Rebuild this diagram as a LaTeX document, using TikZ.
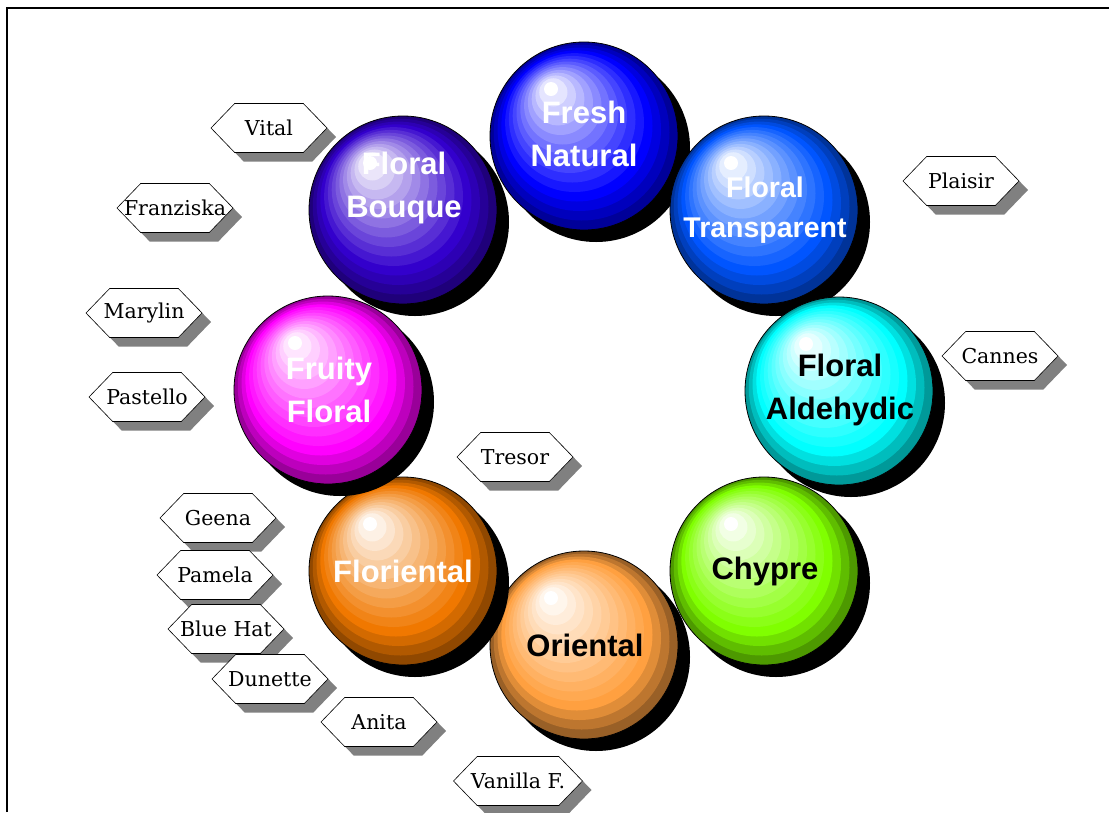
\documentclass[tikz,border=0pt]{standalone}
\usepackage{fontspec}
\setmainfont{DejaVu Serif}
\newfontfamily\ballfont{Liberation Sans}
\usetikzlibrary{shapes.symbols,shadows}
\definecolor{c_fresh}{RGB}{0,0,255}
\definecolor{c_transp}{RGB}{0,85,255}
\definecolor{c_aldeh}{RGB}{0,255,255}
\definecolor{c_chypre}{RGB}{128,255,0}
\definecolor{c_orient}{RGB}{255,160,64}
\definecolor{c_florient}{RGB}{240,120,0}
\definecolor{c_fruity}{RGB}{255,0,255}
\definecolor{c_bouque}{RGB}{51,0,204}
\tikzset{
  tag/.style = {signal, signal to=west and east, signal pointer angle=92,
    draw=black, fill=white, line width=0.6pt, minimum width=116pt,
    minimum height=49pt, inner xsep=1pt, inner ysep=2pt,
    font=\fontsize{20.5}{24}\selectfont,
    execute at begin node={\hbox to 0pt\bgroup\hss},
    execute at end node={\hss\egroup},
    drop shadow={shadow xshift=9pt, shadow yshift=-9pt, fill=black!50,
      opacity=1}},% hexagon with a grey shadow
  balltext/.style = {align=center, inner sep=0pt,
    font=\ballfont\bfseries\fontsize{31}{43}\selectfont}
}
% ball: name, x, y, colour
\newcommand{\ball}[4]{%
  \fill[black] (#2+12,#3+12) circle (94pt);
  \foreach \k in {0,...,13}{
    \pgfmathsetmacro{\t}{\k/14}
    \pgfmathsetmacro{\r}{94-86*\t}
    \ifnum\k<3
      \pgfmathtruncatemacro{\p}{60+\k*14}\def\mix{black}
    \else
      \pgfmathtruncatemacro{\p}{100-(\k-3)*9}\def\mix{white}
    \fi
    \fill[#4!\p!\mix] (#2-33*\t,#3-47*\t) circle (\r pt);
  }
  \draw[black, line width=0.8pt] (#2,#3) circle (94pt);
  \fill[white] (#2-33,#3-47) circle (7pt);
  \coordinate (#1) at (#2,#3);
}

\begin{document}
\begin{tikzpicture}[x=1pt,y=-1pt]
\useasboundingbox (0,0) rectangle (1109,812);
\draw[line width=2.5pt] (7,812) -- (7,8) -- (1109,8);

\ball{fn}{584}{136}{c_fresh}
\ball{ft}{764}{210}{c_transp}
\ball{fa}{839}{391}{c_aldeh}
\ball{ch}{764}{571}{c_chypre}
\ball{or}{584}{645}{c_orient}
\ball{fo}{403}{571}{c_florient}
\ball{ff}{328}{390}{c_fruity}
\ball{fb}{403}{210}{c_bouque}

\node[balltext, white] (t_fn) at (584,134) {Fresh\\Natural};
\node[balltext, white, font=\ballfont\bfseries\fontsize{28.5}{40}\selectfont]
  (t_ft) at (765,210) {Floral\\Transparent};
\node[balltext] (t_fa) at (840,390) {Floral\\Aldehydic};
\node[balltext] (t_ch) at (765,571) {Chypre};
\node[balltext] (t_or) at (585,645) {Oriental};
\node[balltext, white] (t_fo) at (403,571) {Floriental};
\node[balltext, white] (t_ff) at (329,390) {Fruity\\Floral};
\node[balltext, white] (t_fb) at (404,188) {Floral\\Bouque};

\node[tag] (vital) at (269,128) {Vital};
\node[tag] (franz) at (175,208) {Franziska};
\node[tag] (maryl) at (144,313) {Marylin};
\node[tag] (pastel) at (147,397) {Pastello};
\node[tag] (tresor) at (515,457) {Tresor};
\node[tag] (geena) at (218,518) {Geena};
\node[tag] (pamela) at (215,575) {Pamela};
\node[tag] (bluehat) at (226,629) {Blue Hat};
\node[tag] (dunette) at (270,679) {Dunette};
\node[tag] (anita) at (379,722) {Anita};
\node[tag, minimum width=129pt] (vanilla) at (518,781) {Vanilla F.};
\node[tag] (plaisir) at (961,181) {Plaisir};
\node[tag] (cannes) at (1000,356) {Cannes};
\end{tikzpicture}
\end{document}
